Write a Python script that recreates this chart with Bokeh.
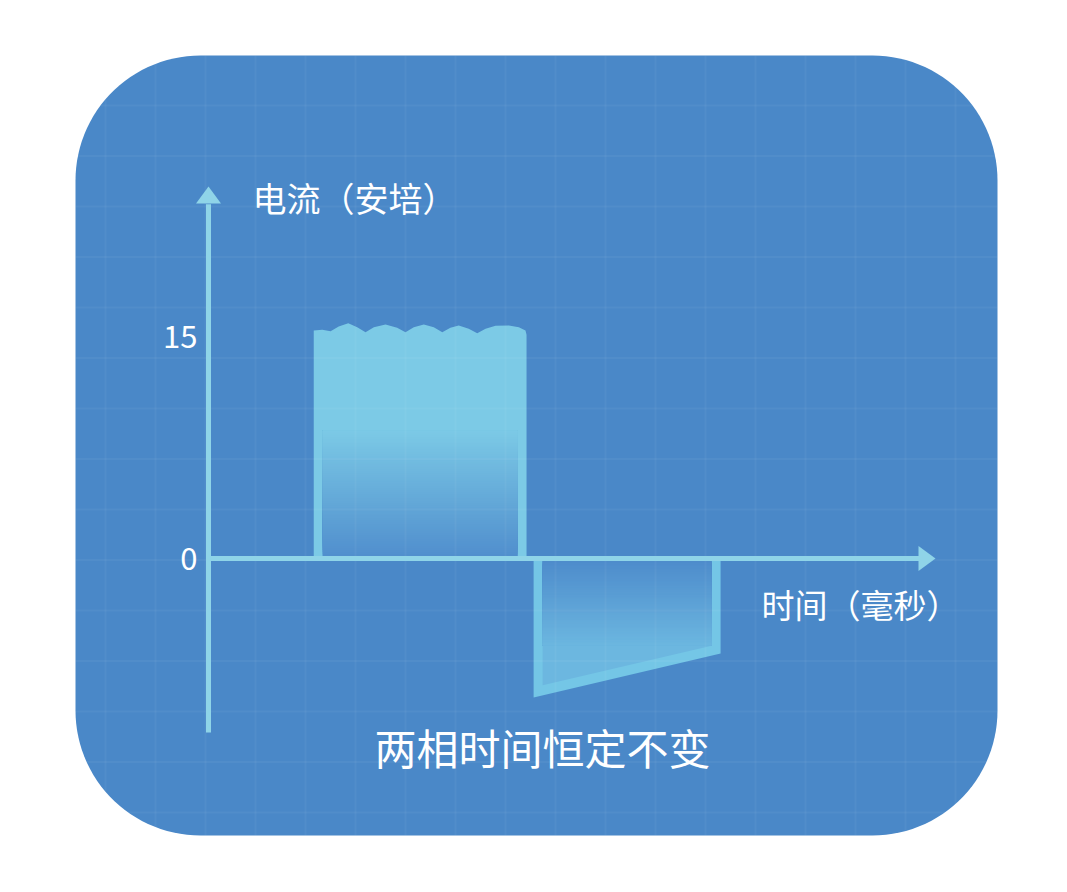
import numpy as np
from bokeh.plotting import figure
from bokeh.models import Range1d
from bokeh.core.properties import value
from bokeh.embed import file_html
from bokeh.resources import INLINE

# ---------------- data ----------------
# positive pulse (time in ms, current in A) - outer outline of its rippled top
pos_top_t = [5.06, 5.47, 5.87, 6.26, 6.72, 7.15, 7.55, 7.95, 8.51, 9.07, 9.47, 9.87,
             10.35, 10.83, 11.24, 11.63, 12.03, 12.51, 12.92, 13.32, 13.80, 14.44, 14.92, 15.24]
pos_top_a = [15.41, 15.45, 15.36, 15.68, 15.90, 15.63, 15.29, 15.63, 15.81, 15.59, 15.29, 15.63,
             15.81, 15.63, 15.29, 15.59, 15.74, 15.52, 15.22, 15.52, 15.72, 15.74, 15.63, 15.41]
pos_start, pos_end = 5.06, 15.29
# negative pulse (trapezoid)
neg_start, neg_end = 15.63, 24.62
neg_low_start, neg_low_end = -9.39, -6.42

tick_values = [15, 0]
tick_labels = ["15", "0"]
y_title = "电流（安培）"
x_title = "时间（毫秒）"
caption = "两相时间恒定不变"

# ---------------- layout / scales ----------------
W, H = 1051, 876
KX, KY = 20.8, 14.8          # px per ms, px per A
OX, OY = 208.0, 558.0        # page px of the origin
X0, Y0 = 0, 0                # page px of the figure's top-left corner

def t_of(X):
    return (X - OX) / KX

def a_of(Y):
    return (OY - Y) / KY

p = figure(width=W, height=H, output_backend="svg", toolbar_location=None,
           x_range=Range1d(t_of(X0), t_of(X0 + W)), y_range=Range1d(a_of(Y0 + H), a_of(Y0)),
           min_border=0, x_axis_location=None, y_axis_location=None,
           background_fill_color="white", border_fill_color="white")
p.outline_line_color = None
p.grid.visible = False

BG = "#4a88c8"
LIGHT = "#7ccae6"
AXIS = "#8fd4e8"

# rounded panel
L, T, R, B, RAD = 75, 55, 997, 835, 125
pts = []
for cx, cy, a0 in [(R - RAD, T + RAD, -90), (R - RAD, B - RAD, 0), (L + RAD, B - RAD, 90), (L + RAD, T + RAD, 180)]:
    for ang in np.linspace(a0, a0 + 90, 30):
        r = np.radians(ang)
        pts.append((cx + RAD * np.cos(r), cy + RAD * np.sin(r)))
p.patch([t_of(x) for x, _ in pts], [a_of(y) for _, y in pts], fill_color=BG, line_color=None)

def rgb(c0, c1, f):
    c = [int(round(c0[i] + (c1[i] - c0[i]) * f)) for i in range(3)]
    return "#%02x%02x%02x" % tuple(c)

dt, da = 9 / KX, 9 / KY

# positive pulse
pxs = [pos_start] + pos_top_t + [pos_end, pos_end]
pys = [0] + pos_top_a + [pos_top_a[-1] - 0.3, 0]
p.patch(pxs, pys, fill_color=LIGHT, line_color=None)
N = 60
g_top = a_of(430)
c_bot, c_top = (80, 142, 205), (124, 202, 230)
ys = np.linspace(0, g_top, N, endpoint=False)
p.quad(left=[pos_start + dt] * N, right=[pos_end - dt] * N, bottom=list(ys), top=[g_top] * N,
       fill_color=[rgb(c_bot, c_top, y / g_top) for y in ys], line_color=None)

# negative pulse
p.patch([neg_start, neg_start, neg_end, neg_end], [0, neg_low_start, neg_low_end, 0],
        fill_color="#74c6e6", line_color=None)
slope = (neg_low_end - neg_low_start) / (neg_end - neg_start)
il, ir = neg_start + dt, neg_end - dt
off = 10 / KY
bl = neg_low_start + slope * (il - neg_start) + off
br = neg_low_start + slope * (ir - neg_start) + off
p.patch([il, il, ir, ir], [0, bl, br, 0], fill_color="#6cb7e0", line_color=None)
g_low = a_of(645)
c_t2, c_b2 = (77, 139, 203), (108, 183, 224)
ys2 = np.linspace(0, g_low, N, endpoint=False)
p.quad(left=[il] * N, right=[ir] * N, bottom=[g_low] * N, top=list(ys2),
       fill_color=[rgb(c_t2, c_b2, y / g_low) for y in ys2], line_color=None)

# faint grid inside the panel
gx, gy = [], []
for X in np.arange(105, R, 50.0):
    if X < L + RAD:
        d = RAD - np.sqrt(max(RAD**2 - (L + RAD - X)**2, 0))
    elif X > R - RAD:
        d = RAD - np.sqrt(max(RAD**2 - (X - (R - RAD))**2, 0))
    else:
        d = 0
    gx.append([t_of(X), t_of(X)]); gy.append([a_of(T + d), a_of(B - d)])
for Y in np.arange(105, B, 50.5):
    if Y < T + RAD:
        d = RAD - np.sqrt(max(RAD**2 - (T + RAD - Y)**2, 0))
    elif Y > B - RAD:
        d = RAD - np.sqrt(max(RAD**2 - (Y - (B - RAD))**2, 0))
    else:
        d = 0
    gx.append([t_of(L + d), t_of(R - d)]); gy.append([a_of(Y), a_of(Y)])
p.multi_line(gx, gy, line_color="white", line_alpha=0.045, line_width=2)

# axes with arrows
y_bot, y_tip, y_base = a_of(732), a_of(186), a_of(203)
x_tip, x_base = t_of(935), t_of(918)
hw_t, hw_a = 12.5 / KX, 12.5 / KY
p.segment(x0=[0, 0], y0=[y_bot, 0], x1=[0, x_base + 0.05], y1=[y_base - 0.05, 0],
          line_color=AXIS, line_width=5, line_cap="butt")
p.patch([-hw_t, 0, hw_t], [y_base, y_tip, y_base], fill_color=AXIS, line_color=None)
p.patch([x_base, x_tip, x_base], [-hw_a, 0, hw_a], fill_color=AXIS, line_color=None)

FONT = value("Noto Sans CJK SC")
p.text(x=[t_of(197)] * len(tick_values), y=tick_values, text=tick_labels,
       text_font=FONT, text_font_size="31px", text_color="white",
       text_align="right", text_baseline="middle")
p.text(x=[t_of(252)], y=[a_of(197)], text=[y_title], text_font=FONT, text_font_size="34px",
       text_color="white", text_align="left", text_baseline="middle")
p.text(x=[t_of(761)], y=[a_of(603)], text=[x_title], text_font=FONT, text_font_size="33px",
       text_color="white", text_align="left", text_baseline="middle")
p.text(x=[t_of(542)], y=[a_of(746)], text=[caption], text_font=FONT, text_font_size="42px",
       text_color="white", text_align="center", text_baseline="middle")

open("out.html", "w").write(file_html(p, INLINE))
